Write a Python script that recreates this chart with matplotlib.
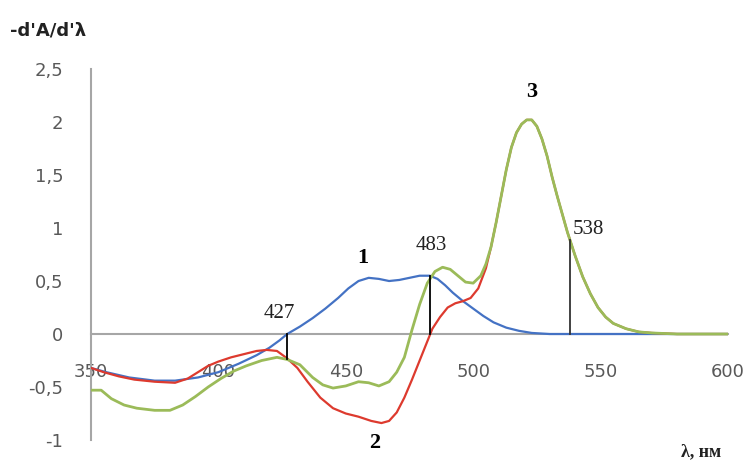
import matplotlib
matplotlib.use("Agg")
import matplotlib.pyplot as plt
from matplotlib.ticker import FuncFormatter
import numpy as np

# second-derivative spectra, -d²A/dλ² vs wavelength
lam_1 = [350, 356, 365, 375, 383, 392, 400, 408, 415, 420, 424, 427, 432, 437,
         442, 447, 451, 455, 459, 463, 467, 471, 475, 479, 483, 486, 489, 492,
         496, 500, 504, 508, 513, 518, 523, 530, 540, 600]
curve_1 = [-0.32, -0.36, -0.41, -0.44, -0.44, -0.41, -0.36, -0.28, -0.20, -0.13,
           -0.06, 0.00, 0.07, 0.15, 0.24, 0.34, 0.43, 0.50, 0.53, 0.52, 0.50,
           0.51, 0.53, 0.55, 0.55, 0.52, 0.46, 0.39, 0.31, 0.24, 0.17, 0.11,
           0.06, 0.03, 0.01, 0.0, 0.0, 0.0]

# shared long-wave band of curves 2 and 3
lam_band = [507, 509, 511, 513, 515, 517, 519, 521, 523, 525, 527, 529, 531,
            533, 535, 537, 540, 543, 546, 549, 552, 555, 560, 565, 570, 580, 600]
band = [0.82, 1.05, 1.30, 1.55, 1.76, 1.90, 1.98, 2.02, 2.02, 1.96, 1.84, 1.68,
        1.48, 1.30, 1.13, 0.96, 0.74, 0.54, 0.38, 0.25, 0.16, 0.10, 0.05, 0.02,
        0.01, 0.0, 0.0]

lam_2 = [350, 355, 361, 367, 375, 383, 388, 392, 396, 400, 405, 410, 415, 419,
         423, 427, 431, 435, 440, 445, 450, 455, 460, 464, 467, 470, 473, 476,
         479, 482, 484, 487, 490, 493, 496, 499, 502, 505] + lam_band
curve_2 = [-0.32, -0.36, -0.40, -0.43, -0.45, -0.46, -0.42, -0.36, -0.30, -0.26,
           -0.22, -0.19, -0.16, -0.15, -0.16, -0.23, -0.32, -0.45, -0.60, -0.70,
           -0.75, -0.78, -0.82, -0.84, -0.82, -0.74, -0.60, -0.43, -0.25, -0.07,
           0.05, 0.16, 0.25, 0.29, 0.31, 0.34, 0.43, 0.62] + band

lam_3 = [350, 354, 358, 363, 368, 375, 381, 386, 391, 396, 401, 406, 411, 417,
         423, 427, 432, 437, 441, 445, 450, 455, 459, 463, 467, 470, 473, 476,
         479, 482, 485, 488, 491, 494, 497, 500, 503, 505] + lam_band
curve_3 = [-0.53, -0.53, -0.61, -0.67, -0.70, -0.72, -0.72, -0.67, -0.59, -0.50,
           -0.42, -0.35, -0.30, -0.25, -0.22, -0.24, -0.29, -0.41, -0.48, -0.51,
           -0.49, -0.45, -0.46, -0.49, -0.45, -0.36, -0.22, 0.04, 0.28, 0.48,
           0.59, 0.63, 0.61, 0.55, 0.49, 0.48, 0.55, 0.66] + band

x_ticks = [350, 400, 450, 500, 550, 600]
y_ticks = [-1, -0.5, 0, 0.5, 1, 1.5, 2, 2.5]

fig = plt.figure(figsize=(7.5, 4.62), dpi=100)
ax = fig.add_axes([0.1213, 0.0476, 0.8493, 0.803])

ax.plot(lam_1, curve_1, color="#4472c4", lw=1.6, zorder=3)
ax.plot(lam_2, curve_2, color="#dd3a2e", lw=1.6, zorder=4)
ax.plot(lam_3, curve_3, color="#9bbb59", lw=2.0, zorder=5)

# bars between the curves at each marked wavelength
m1 = np.interp(427, lam_1, curve_1)
m2 = np.interp(427, lam_3, curve_3)
ax.plot([427, 427], [m1, m2], color="black", lw=1.3, zorder=6)
top_483 = np.interp(483, lam_1, curve_1)
ax.plot([483, 483], [0, top_483], color="black", lw=1.3, zorder=6)
top_538 = np.interp(538, lam_3, curve_3)
ax.plot([538, 538], [0, top_538], color="#333333", lw=1.3, zorder=6)

serif = "Liberation Serif"
ax.annotate("427", (427, m1), xytext=(-6, 8), textcoords="offset points",
            ha="center", va="bottom", fontsize=15, family=serif, color="#222222")
ax.annotate("483", (483, top_483), xytext=(1, 15), textcoords="offset points",
            ha="center", va="bottom", fontsize=15, family=serif, color="#222222")
ax.annotate("538", (538, top_538), xytext=(2, 1), textcoords="offset points",
            ha="left", va="bottom", fontsize=15, family=serif, color="#222222")

ax.text(456.7, 0.72, "1", fontsize=16, fontweight="bold", family=serif,
        ha="center", va="center")
ax.text(461.5, -1.03, "2", fontsize=16, fontweight="bold", family=serif,
        ha="center", va="center")
ax.text(523, 2.28, "3", fontsize=16, fontweight="bold", family=serif,
        ha="center", va="center")

ax.set_xlim(350, 600)
ax.set_ylim(-1, 2.5)
ax.set_xticks(x_ticks)
ax.set_yticks(y_ticks)
ax.yaxis.set_major_formatter(FuncFormatter(lambda v, p: f"{v:g}".replace(".", ",")))

for side in ("top", "right"):
    ax.spines[side].set_visible(False)
ax.spines["bottom"].set_position(("data", 0))
ax.spines["bottom"].set_color("#a6a6a6")
ax.spines["left"].set_color("#a6a6a6")
ax.spines["bottom"].set_linewidth(1.5)
ax.spines["left"].set_linewidth(1.5)
ax.spines["bottom"].set_zorder(1)

ax.tick_params(axis="x", length=0, pad=21, labelsize=13, labelcolor="#595959")
ax.tick_params(axis="y", length=0, pad=20, labelsize=13, labelcolor="#595959")

fig.text(0.013, 0.935, "-d'A/d'λ", fontsize=13, fontweight="bold",
         ha="left", va="center", color="#222222")
fig.text(0.908, 0.004, "λ, нм", fontsize=13, fontweight="bold", family=serif,
         ha="left", va="bottom", color="#222222")

fig.savefig("out.png", dpi=100)
